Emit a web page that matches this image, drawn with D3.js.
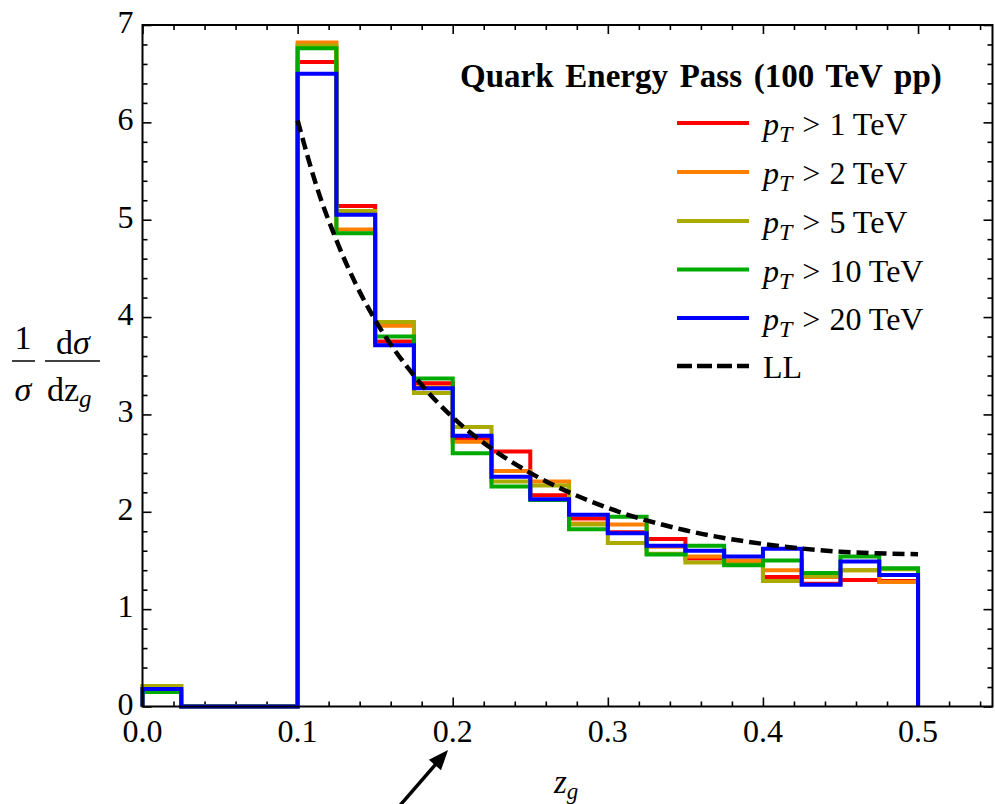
<!DOCTYPE html>
<html>
<head>
<meta charset="utf-8">
<script src="https://cdn.jsdelivr.net/npm/d3@7/dist/d3.min.js"></script>
<style>
  body { margin: 0; background: #fff; }
  svg text { font-family: "Liberation Serif", "Times New Roman", Times, "DejaVu Serif", serif; fill: #000; }
</style>
</head>
<body>
<div class="chart"></div>
<script>
// z_g histogram, quark energy pass

// Bin edges (width 0.025)
var binEdges = [0, 0.025, 0.05, 0.075, 0.1, 0.125, 0.15, 0.175, 0.2, 0.225, 0.25,
                0.275, 0.3, 0.325, 0.35, 0.375, 0.4, 0.425, 0.45, 0.475, 0.5];

// Bin heights, one per bin
var pt1  = [0.18, 0, 0, 0, 6.62, 5.14, 3.75, 3.32, 2.75, 2.62, 2.17, 1.93, 1.79, 1.72, 1.52, 1.49, 1.33, 1.26, 1.30, 1.29];
var pt2  = [0.21, 0, 0, 0, 6.82, 4.90, 3.91, 3.28, 2.72, 2.42, 2.31, 1.88, 1.87, 1.64, 1.54, 1.50, 1.40, 1.33, 1.40, 1.28];
var pt5  = [0.21, 0, 0, 0, 6.79, 5.09, 3.95, 3.22, 2.87, 2.31, 2.27, 1.87, 1.68, 1.57, 1.48, 1.46, 1.29, 1.34, 1.40, 1.41];
var pt10 = [0.15, 0, 0, 0, 6.76, 4.86, 3.80, 3.37, 2.60, 2.26, 2.12, 1.82, 1.95, 1.56, 1.65, 1.45, 1.50, 1.37, 1.54, 1.42];
var pt20 = [0.18, 0, 0, 0, 6.50, 5.05, 3.71, 3.27, 2.78, 2.36, 2.13, 1.97, 1.78, 1.65, 1.60, 1.54, 1.62, 1.25, 1.49, 1.35];

// LL curve, points
var llZ   = [0.1, 0.1125, 0.125, 0.1375, 0.15, 0.175, 0.2, 0.225, 0.25, 0.3, 0.35, 0.4, 0.45, 0.5];
var llVal = [6.02, 5.33, 4.79, 4.34, 3.97, 3.40, 2.97, 2.65, 2.40, 2.04, 1.81, 1.67, 1.59, 1.565];

var seriesNames  = ["1 TeV", "2 TeV", "5 TeV", "10 TeV", "20 TeV"];
var seriesColors = ["#ff0000", "#ff8000", "#aaaa00", "#00aa00", "#0000ff"];
var seriesData   = [pt1, pt2, pt5, pt10, pt20];

var xTickVals   = [0, 0.1, 0.2, 0.3, 0.4, 0.5];
var xTickLabels = ["0.0", "0.1", "0.2", "0.3", "0.4", "0.5"];
var yTickVals   = [0, 1, 2, 3, 4, 5, 6, 7];

var svgWidth = 995;
var svgHeight = 804;
var margin = { top: 25, right: 2.5, bottom: 97.5, left: 142.5 };
var width = svgWidth - margin.left - margin.right;
var height = svgHeight - margin.top - margin.bottom;

var svg = d3.select(".chart")
  .append("svg")
  .attr("width", svgWidth)
  .attr("height", svgHeight)
  .attr("font-family", "'Liberation Serif', 'Times New Roman', Times, 'DejaVu Serif', serif");

var chartGroup = svg.append("g")
  .attr("transform", `translate(${margin.left}, ${margin.top})`);

var xScale = d3.scaleLinear().domain([0, 0.548]).range([0, width]);
var yScale = d3.scaleLinear().domain([0, 7]).range([height, 0]);

// Frame ticks (inside, all four sides)
var xMinor = d3.range(0, 0.5481, 0.02).filter(v => Math.abs(v * 10 - Math.round(v * 10)) > 1e-6);
var yMinor = d3.range(0, 7.001, 0.2).filter(v => Math.abs(v - Math.round(v)) > 1e-6);

function tickAxis(axis, size) {
  return axis.tickSize(size).tickFormat("").tickSizeOuter(0);
}

var axisMakers = [d3.axisTop, d3.axisBottom, d3.axisRight, d3.axisLeft];
var axisPos = [`translate(0, ${height})`, "translate(0, 0)", "translate(0, 0)", `translate(${width}, 0)`];
axisMakers.forEach(function(mk, i) {
  var isX = i < 2;
  var sc = isX ? xScale : yScale;
  chartGroup.append("g")
    .attr("transform", axisPos[i])
    .call(tickAxis(mk(sc).tickValues(isX ? xTickVals : yTickVals), 9));
  chartGroup.append("g")
    .attr("transform", axisPos[i])
    .call(tickAxis(mk(sc).tickValues(isX ? xMinor : yMinor), 5));
});
chartGroup.selectAll(".domain").remove();
chartGroup.selectAll(".tick line").attr("stroke", "#000").attr("stroke-width", 1.6);

// Tick labels
chartGroup.selectAll(".xlab")
  .data(xTickVals)
  .enter()
  .append("text")
  .attr("x", d => xScale(d))
  .attr("y", height + 35)
  .attr("text-anchor", "middle")
  .attr("font-size", 32)
  .text((d, i) => xTickLabels[i]);

chartGroup.selectAll(".ylab")
  .data(yTickVals)
  .enter()
  .append("text")
  .attr("x", -9)
  .attr("y", d => yScale(d) + 8)
  .attr("text-anchor", "end")
  .attr("font-size", 32)
  .text(d => d);

// Histograms
function stepPoints(vals) {
  var pts = [[binEdges[0], 0]];
  vals.forEach(function(v, i) {
    pts.push([binEdges[i], v]);
    pts.push([binEdges[i + 1], v]);
  });
  pts.push([binEdges[binEdges.length - 1], 0]);
  return pts;
}

var line = d3.line()
  .x(d => xScale(d[0]))
  .y(d => yScale(d[1]));

chartGroup.selectAll(".hist")
  .data(seriesData)
  .enter()
  .append("path")
  .attr("d", d => line(stepPoints(d)))
  .attr("fill", "none")
  .attr("stroke", (d, i) => seriesColors[i])
  .attr("stroke-width", 4)
  .attr("stroke-linejoin", "miter");

// LL dashed curve
var llLine = d3.line()
  .x(d => xScale(d[0]))
  .y(d => yScale(d[1]))
  .curve(d3.curveMonotoneX);

chartGroup.append("path")
  .attr("d", llLine(llZ.map((z, i) => [z, llVal[i]])))
  .attr("fill", "none")
  .attr("stroke", "#000")
  .attr("stroke-width", 4.5)
  .attr("stroke-dasharray", "12,6");

// Frame
chartGroup.append("rect")
  .attr("width", width)
  .attr("height", height)
  .attr("fill", "none")
  .attr("stroke", "#000")
  .attr("stroke-width", 2);

// Legend
svg.append("text")
  .attr("x", 460)
  .attr("y", 87)
  .attr("font-size", 33)
  .attr("font-weight", "bold")
  .attr("word-spacing", 3.5)
  .text("Quark Energy Pass (100 TeV pp)");

var legendY = [123, 172, 221, 269.5, 318, 366];
var legend = svg.append("g");

seriesNames.forEach(function(name, i) {
  legend.append("line")
    .attr("x1", 677).attr("x2", 749)
    .attr("y1", legendY[i]).attr("y2", legendY[i])
    .attr("stroke", seriesColors[i])
    .attr("stroke-width", 4);
  var t = legend.append("text")
    .attr("x", 763)
    .attr("y", legendY[i] + 12)
    .attr("font-size", 32);
  t.append("tspan").attr("font-style", "italic").text("p");
  t.append("tspan").attr("font-style", "italic").attr("font-size", 24).attr("dy", 7).text("T");
  t.append("tspan").attr("dy", -7).attr("dx", 10).text(">");
  t.append("tspan").attr("dx", 9).text(name);
});

legend.append("line")
  .attr("x1", 677).attr("x2", 749)
  .attr("y1", legendY[5]).attr("y2", legendY[5])
  .attr("stroke", "#000")
  .attr("stroke-width", 4.5)
  .attr("stroke-dasharray", "15,5");
legend.append("text")
  .attr("x", 763)
  .attr("y", legendY[5] + 12)
  .attr("font-size", 32)
  .text("LL");

// Y axis label: 1/sigma dsigma/dz_g
var yl = svg.append("g");
yl.append("text").attr("x", 23).attr("y", 349).attr("text-anchor", "middle").attr("font-size", 34).text("1");
yl.append("line").attr("x1", 12).attr("x2", 35).attr("y1", 361).attr("y2", 361).attr("stroke", "#000").attr("stroke-width", 1.5);
yl.append("text").attr("x", 23).attr("y", 401).attr("text-anchor", "middle").attr("font-size", 34).attr("font-style", "italic").text("σ");
yl.append("text").attr("x", 73).attr("y", 354).attr("text-anchor", "middle").attr("font-size", 34)
  .call(function(t) {
    t.append("tspan").text("d");
    t.append("tspan").attr("font-style", "italic").text("σ");
  });
yl.append("line").attr("x1", 45).attr("x2", 100).attr("y1", 361).attr("y2", 361).attr("stroke", "#000").attr("stroke-width", 1.5);
yl.append("text").attr("x", 47).attr("y", 401).attr("font-size", 34)
  .call(function(t) {
    t.append("tspan").text("dz");
    t.append("tspan").attr("font-style", "italic").attr("font-size", 25).attr("dy", 6).text("g");
  });

// X axis label
svg.append("text")
  .attr("x", 554)
  .attr("y", 793)
  .attr("font-size", 33)
  .call(function(t) {
    t.append("tspan").attr("font-style", "italic").text("z");
    t.append("tspan").attr("font-style", "italic").attr("font-size", 23).attr("dy", 6).text("g");
  });

// Arrow pointing at 0.2
var tipX = margin.left + xScale(0.197), tipY = 750;
var ang = Math.atan2(-53, 46);
var tailLen = 90, headLen = 20, headHalf = 8;
var ux = Math.cos(ang), uy = Math.sin(ang);
svg.append("line")
  .attr("x1", tipX - ux * tailLen).attr("y1", tipY - uy * tailLen)
  .attr("x2", tipX - ux * (headLen - 4)).attr("y2", tipY - uy * (headLen - 4))
  .attr("stroke", "#000").attr("stroke-width", 3.5);
var bx = tipX - ux * headLen, by = tipY - uy * headLen;
svg.append("path")
  .attr("d", `M${tipX},${tipY}L${bx - uy * headHalf},${by + ux * headHalf}L${bx + uy * headHalf},${by - ux * headHalf}Z`)
  .attr("fill", "#000");
</script>
</body>
</html>
